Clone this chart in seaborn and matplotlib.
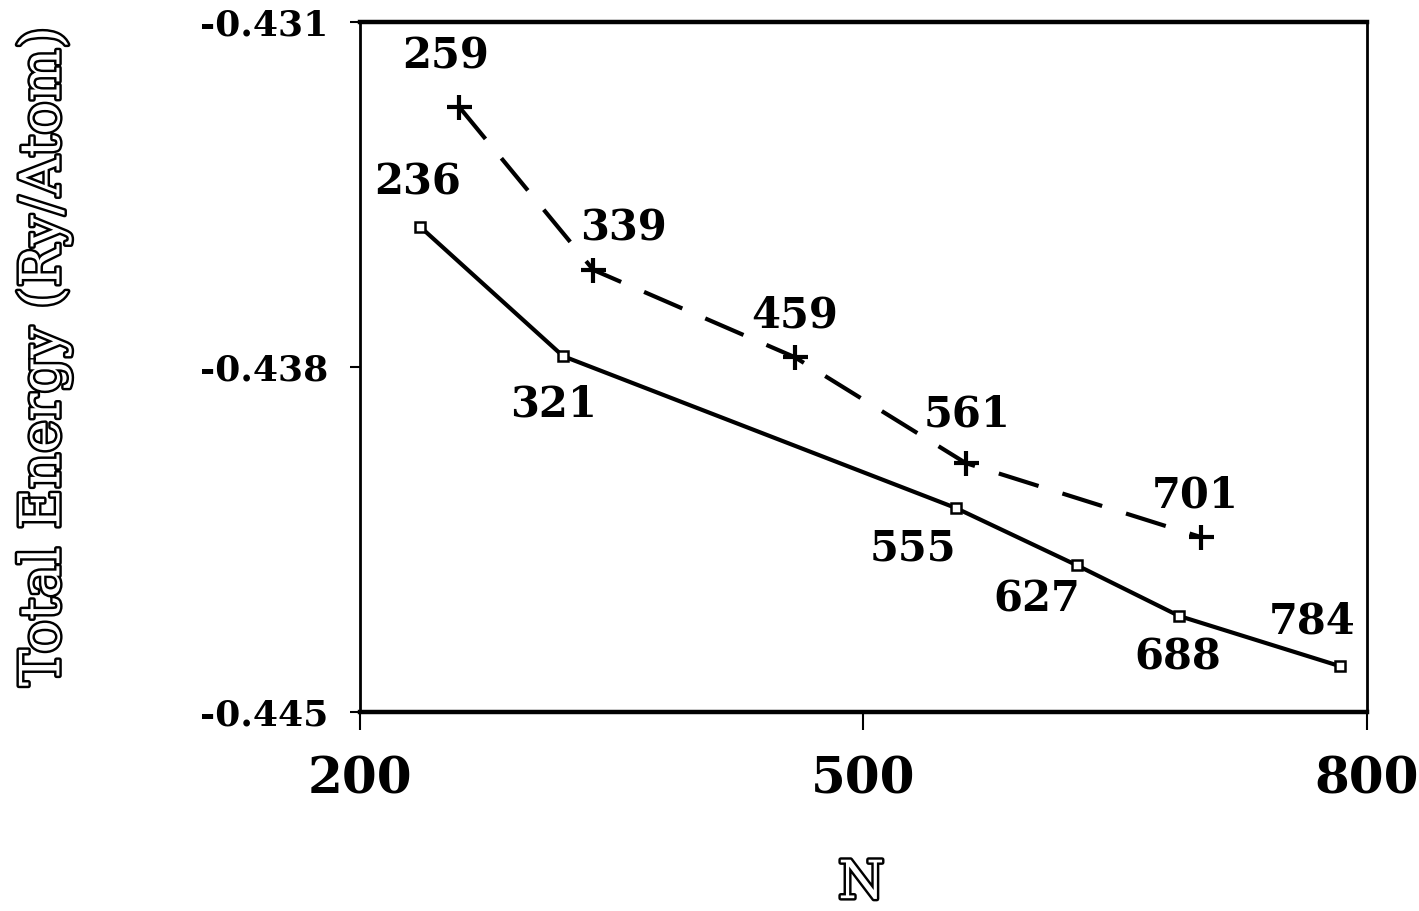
import pandas as pd
import matplotlib.pyplot as plt
import matplotlib.patheffects as pe
import seaborn as sns

# solid curve, open squares
n_square = [236, 321, 555, 627, 688, 784]
e_square = [-0.43516, -0.43778, -0.44086, -0.44202, -0.44305, -0.44407]

# dashed curve, plus markers
n_plus = [259, 339, 459, 561, 701]
e_plus = [-0.43272, -0.43603, -0.43780, -0.43995, -0.44145]

x_ticks = [200, 500, 800]
y_ticks = [-0.445, -0.438, -0.431]
y_ticklabels = ["-0.445", "-0.438", "-0.431"]

# label offsets (points) from each marker
off_square = [(-2, 32), (-7, -35), (-31, -29), (-29, -25), (-1, -30), (-20, 32)]
off_plus = [(-10, 36), (22, 30), (0, 30), (1, 35), (-4, 30)]


def main():
    sns.set_style("ticks", {"text.color": "black", "xtick.color": "black",
                            "ytick.color": "black", "axes.labelcolor": "black",
                            "axes.edgecolor": "black"})
    plt.rcParams["font.family"] = ["DejaVu Serif"]

    df_sq = pd.DataFrame({"N": n_square, "E": e_square})
    df_pl = pd.DataFrame({"N": n_plus, "E": e_plus})

    fig = plt.figure(figsize=(14.19, 9.11), dpi=100)
    ax = fig.add_axes([0.2537, 0.2184, 0.7096, 0.7575])

    sns.lineplot(data=df_sq, x="N", y="E", ax=ax, color="black", lw=3,
                 marker="s", markersize=7, markerfacecolor="white",
                 markeredgecolor="black", markeredgewidth=1.8)
    sns.lineplot(data=df_pl, x="N", y="E", ax=ax, color="black", lw=3,
                 marker="+", markersize=18, markeredgewidth=3,
                 markeredgecolor="black")
    ax.lines[1].set_dashes((10, 6))

    for n, e, off in zip(n_square, e_square, off_square):
        ax.annotate(str(n), (n, e), xytext=off, textcoords="offset points",
                    ha="center", va="center", fontsize=30, fontweight="bold")
    for n, e, off in zip(n_plus, e_plus, off_plus):
        ax.annotate(str(n), (n, e), xytext=off, textcoords="offset points",
                    ha="center", va="center", fontsize=30, fontweight="bold")

    ax.set_xlim(200, 800)
    ax.set_ylim(-0.445, -0.431)
    ax.set_xticks(x_ticks)
    ax.set_xticklabels([str(t) for t in x_ticks], fontsize=36, fontweight="bold")
    ax.set_yticks(y_ticks)
    ax.set_yticklabels(y_ticklabels, fontsize=26, fontweight="bold")
    ax.tick_params(axis="x", direction="out", length=13, width=1.5, pad=18)
    ax.tick_params(axis="y", direction="out", length=7, width=1.5, pad=16)
    ax.set_xlabel("")
    ax.set_ylabel("")

    for side in ["top", "bottom"]:
        ax.spines[side].set_linewidth(3.2)
    for side in ["left", "right"]:
        ax.spines[side].set_linewidth(2)
    for side in ax.spines:
        ax.spines[side].set_visible(True)

    outline = [pe.withStroke(linewidth=3.5, foreground="black")]
    fig.text(0.031, 0.608, "Total Energy (Ry/Atom)", rotation=90, ha="center",
             va="center", fontsize=40, color="white", path_effects=outline)
    fig.text(0.607, 0.03, "N", ha="center", va="center", fontsize=38,
             color="white", path_effects=outline)

    fig.savefig("out.png", dpi=100)


if __name__ == "__main__":
    main()
